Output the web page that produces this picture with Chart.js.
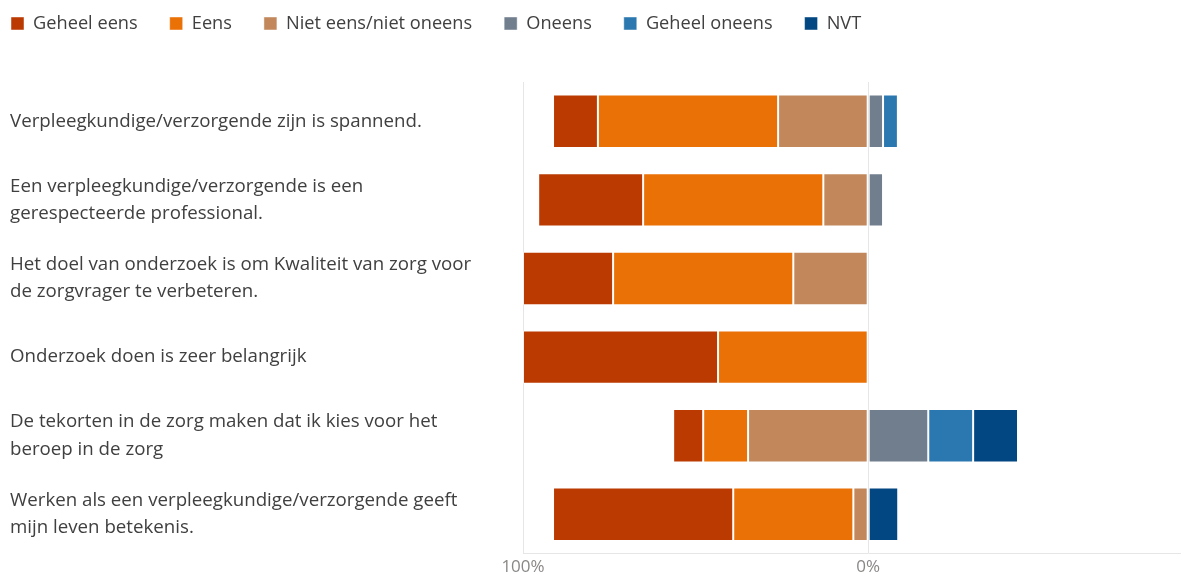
<!DOCTYPE html>
<html>
<head>
<meta charset="utf-8">
<script src="https://cdn.jsdelivr.net/npm/chart.js@4.4.0/dist/chart.umd.min.js"></script>
<style>
  html, body { margin: 0; padding: 0; background: #fff; overflow: hidden; }
</style>
</head>
<body>
<canvas id="chart" width="1238" height="580"></canvas>
<script>
/* Diverging stacked bar chart - survey answers (% of respondents) */

const categories = [
  "Verpleegkundige/verzorgende zijn is spannend.",
  ["Een verpleegkundige/verzorgende is een", "gerespecteerde professional."],
  ["Het doel van onderzoek is om Kwaliteit van zorg voor", "de zorgvrager te verbeteren."],
  "Onderzoek doen is zeer belangrijk",
  ["De tekorten in de zorg maken dat ik kies voor het", "beroep in de zorg"],
  ["Werken als een verpleegkundige/verzorgende geeft", "mijn leven betekenis."]
];

const seriesNames = ["Geheel eens", "Eens", "Niet eens/niet oneens", "Oneens", "Geheel oneens", "NVT"];

const geheelEens = [13.0, 30.4, 26.1, 56.5, 8.7, 52.2];
const eens = [52.2, 52.2, 52.2, 43.5, 13.0, 34.8];
const nietEens = [26.1, 13.0, 21.7, 0, 34.8, 4.3];
const oneens = [4.3, 4.3, 0, 0, 17.4, 0];
const geheelOneens = [4.3, 0, 0, 0, 13.0, 0];
const nvt = [0, 0, 0, 0, 13.0, 8.7];

const xTicks = [-100, 0, 100];

const seriesValues = [geheelEens, eens, nietEens, oneens, geheelOneens, nvt];
const seriesColors = ["#BA3A02", "#EA7106", "#C2885C", "#717E8E", "#2B78B0", "#024782"];
// left side of the zero line (drawn as negative values)
const leftSide = [true, true, true, false, false, false];
// stacking order: closest to zero first
const stackOrder = [2, 1, 0, 3, 4, 5];

const FONT = '"Segoe UI", "Open Sans", sans-serif';
const LEGEND_PAD = 32;
const LEGEND_FONT = 18.2;

Chart.defaults.font.family = FONT;

// Move legend to the top-left corner and reserve room above the bars
const legendPlace = {
  id: "legendPlace",
  afterInit(chart) {
    const legend = chart.legend;
    const fit = legend.fit;
    legend.fit = function () {
      fit.call(this);
      this.height = 82;
    };
    const draw = legend.draw;
    legend.draw = function () {
      const ctx = this.ctx;
      ctx.save();
      ctx.translate(11 - this.left - LEGEND_PAD, 23.5 - this.top - LEGEND_PAD - LEGEND_FONT / 2);
      draw.call(this);
      ctx.restore();
    };
  }
};

const datasets = seriesNames.map((name, i) => ({
  label: name,
  data: seriesValues[i].map((v) => (v === 0 ? null : leftSide[i] ? -v : v)),
  backgroundColor: seriesColors[i],
  borderColor: "rgba(255, 255, 255, 0.45)",
  borderWidth: 1,
  borderSkipped: false,
  order: stackOrder[i],
  barPercentage: 0.68,
  categoryPercentage: 1
}));

new Chart(document.getElementById("chart"), {
  type: "bar",
  data: { labels: categories, datasets: datasets },
  plugins: [legendPlace],
  options: {
    indexAxis: "y",
    responsive: false,
    animation: false,
    layout: { padding: { left: 10, top: 0, right: 0, bottom: 0 } },
    plugins: {
      tooltip: { enabled: false },
      legend: {
        position: "top",
        align: "start",
        labels: {
          boxWidth: 13,
          boxHeight: 13,
          padding: LEGEND_PAD,
          color: "#404040",
          font: { size: LEGEND_FONT },
          sort: (a, b) => a.datasetIndex - b.datasetIndex
        }
      }
    },
    scales: {
      x: {
        stacked: true,
        min: -100,
        max: 100,
        afterBuildTicks: (scale) => {
          scale.ticks = xTicks.map((v) => ({ value: v }));
        },
        ticks: {
          color: "#8a8886",
          font: { size: 17 },
          padding: 3,
          callback: (v) => Math.abs(v) + "%"
        },
        grid: { color: "#e6e6e6", drawTicks: false },
        border: { color: "#e6e6e6" }
      },
      y: {
        stacked: true,
        afterFit: (scale) => {
          scale.width = 513;
        },
        ticks: {
          color: "#404040",
          crossAlign: "far",
          autoSkip: false,
          padding: 0,
          font: { size: 18.7, lineHeight: 1.45 }
        },
        grid: { display: false },
        border: { display: false }
      }
    }
  }
});
</script>
</body>
</html>
